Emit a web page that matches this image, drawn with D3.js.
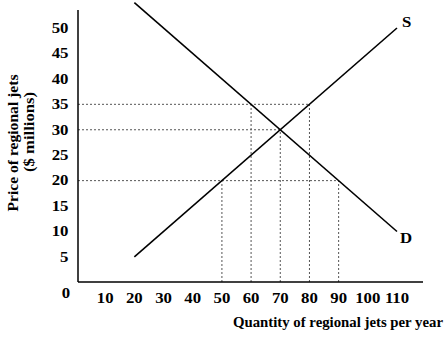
<!DOCTYPE html>
<html><head><meta charset="utf-8">
<script src="https://cdn.jsdelivr.net/npm/d3@7"></script>
<style>body{margin:0;background:#fff}text{font-family:"Liberation Serif","Times New Roman",serif;font-weight:bold;fill:#000}</style>
</head><body><svg id="c" width="448" height="338"></svg>
<script>
const xTicks = [10,20,30,40,50,60,70,80,90,100,110];
const yTicks = [5,10,15,20,25,30,35,40,45,50];
const supplyQ = [20,110], supplyP = [5,50];
const demandQ = [20,110], demandP = [55,10];
const guideQ = [50,60,70,80,90];
const guideP = [20,35,30,35,20];
const hGuideP = [35,30,20];
const hGuideQ = [80,70,90];

const svg = d3.select("#c");
const x = d3.scaleLinear().domain([0,110]).range([76,397]);
const y = d3.scaleLinear().domain([0,50]).range([282.4,28]);
const x0 = 78, yb = 282;
const SX = 1.2;

// guides
const g = svg.append("g").attr("stroke","#555").attr("stroke-width",1).attr("stroke-dasharray","2,2");
guideQ.forEach((q,i)=>g.append("line").attr("x1",x(q)).attr("x2",x(q)).attr("y1",yb).attr("y2",y(guideP[i])));
hGuideP.forEach((p,i)=>g.append("line").attr("x1",x0).attr("x2",x(hGuideQ[i])).attr("y1",y(p)).attr("y2",y(p)));

// axes
svg.append("line").attr("x1",x0).attr("x2",x0).attr("y1",10).attr("y2",yb).attr("stroke","#000").attr("stroke-width",1.5);
svg.append("line").attr("x1",x0).attr("x2",423).attr("y1",yb).attr("y2",yb).attr("stroke","#000").attr("stroke-width",1.5);

// curves
const line = d3.line().x(d=>x(d[0])).y(d=>y(d[1]));
svg.append("path").attr("d",line(supplyQ.map((q,i)=>[q,supplyP[i]]))).attr("stroke","#000").attr("stroke-width",1.6).attr("fill","none");
svg.append("path").attr("d",line(demandQ.map((q,i)=>[q,demandP[i]]))).attr("stroke","#000").attr("stroke-width",1.6).attr("fill","none");
svg.append("text").attr("transform","translate(402,27) scale(1.2,1)").attr("font-size",14).text("S");
svg.append("text").attr("transform","translate(400,243) scale(1.2,1)").attr("font-size",14).text("D");

// tick labels
svg.selectAll(".yt").data(yTicks).enter().append("text")
  .attr("transform",d=>`translate(68.5,${y(d)+4.8}) scale(${SX},1)`)
  .attr("text-anchor","end").attr("font-size",14).text(d=>d);
svg.selectAll(".xt").data(xTicks).enter().append("text")
  .attr("transform",d=>`translate(${x(d)},303) scale(${SX},1)`)
  .attr("text-anchor","middle").attr("font-size",14).text(d=>d);
svg.append("text").attr("transform",`translate(66,298) scale(${SX},1)`).attr("text-anchor","middle").attr("font-size",14).text("0");

// titles
svg.append("text").attr("x",443).attr("y",327).attr("text-anchor","end").attr("font-size",14.5)
  .attr("textLength",210).attr("lengthAdjust","spacingAndGlyphs").text("Quantity of regional jets per year");
svg.append("text").attr("transform","translate(18,143) rotate(-90)").attr("text-anchor","middle").attr("font-size",15.5)
  .attr("textLength",137).attr("lengthAdjust","spacingAndGlyphs").text("Price of regional jets");
svg.append("text").attr("transform","translate(34,132) rotate(-90)").attr("text-anchor","middle").attr("font-size",15.5)
  .attr("textLength",80).attr("lengthAdjust","spacingAndGlyphs").text("($ millions)");
</script></body></html>
